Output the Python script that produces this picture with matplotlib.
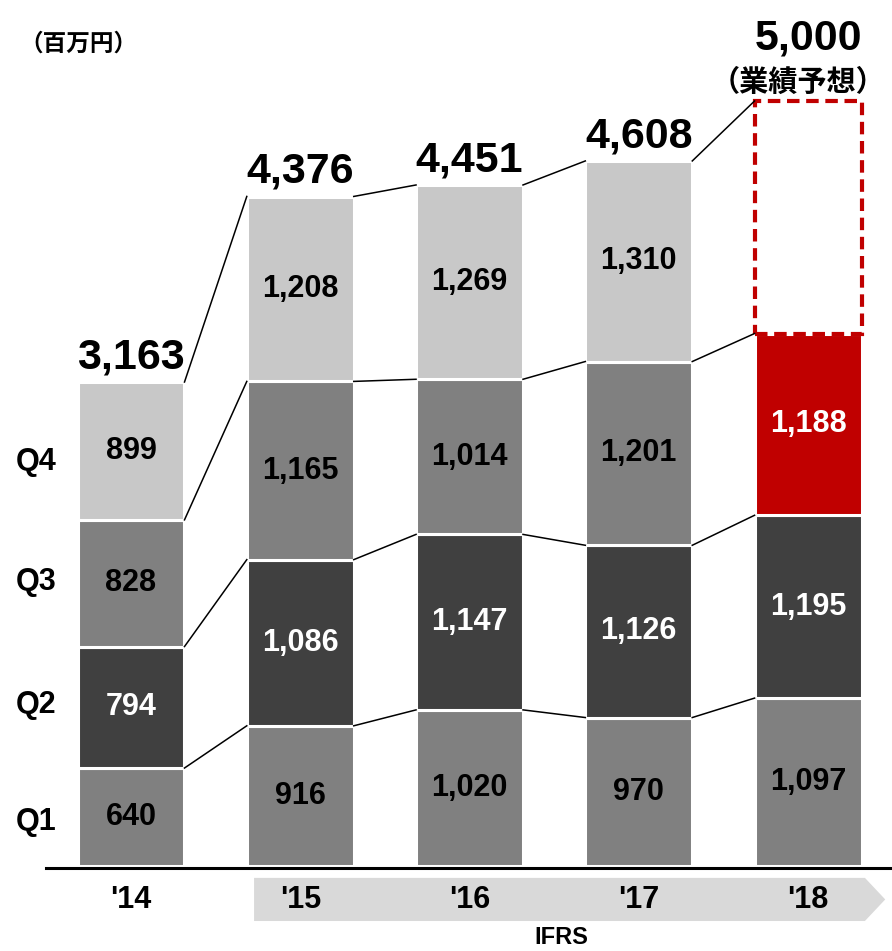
import numpy as np
import matplotlib.pyplot as plt
from matplotlib.patches import Polygon, Rectangle

plt.rcParams['font.family'] = ['Liberation Sans', 'Noto Sans CJK JP', 'DejaVu Sans']

years = ["'14", "'15", "'16", "'17", "'18"]
quarters = ['Q1', 'Q2', 'Q3', 'Q4']
q1 = [640, 916, 1020, 970, 1097]
q2 = [794, 1086, 1147, 1126, 1195]
q3 = [828, 1165, 1014, 1201, 1188]
q4 = [899, 1208, 1269, 1310, None]
totals = [3163, 4376, 4451, 4608, 5000]
total_labels = ['3,163', '4,376', '4,451', '4,608', '5,000']

GRAY = '#808080'
DARK = '#404040'
LIGHT = '#c8c8c8'
RED = '#c00000'
seg_colors = [GRAY, DARK, GRAY, LIGHT]
txt_colors = ['black', 'white', 'black', 'black']

fig = plt.figure(figsize=(8.92, 9.51), dpi=100)
ax = fig.add_axes([0, 0, 1, 1])
ax.set_xlim(-0.774, 4.496)
ax.set_ylim(-556, 5660)
ax.axis('off')

x = np.arange(len(years))
width = 0.632
series = [q1, q2, q3, q4]

bottom = np.zeros(len(years))
tops = []
for qi, vals in enumerate(series):
    for i, v in enumerate(vals):
        if v is None:
            continue
        color = seg_colors[qi]
        tcol = txt_colors[qi]
        # latest reported quarter highlighted in red
        if qi == 2 and i == 4:
            color, tcol = RED, 'white'
        ax.bar(x[i], v, width, bottom=bottom[i], color=color,
               edgecolor='white', linewidth=2.2)
        ax.text(x[i], bottom[i] + v / 2, f'{v:,}', ha='center', va='center',
                fontsize=22, fontweight='bold', color=tcol)
    vals_filled = np.array([0 if v is None else v for v in vals], dtype=float)
    bottom = bottom + vals_filled
    tops.append(bottom.copy())

# forecast remainder as a dashed box
fc_bottom = tops[2][4]
ax.add_patch(Rectangle((x[4] - width / 2, fc_bottom), width, totals[4] - fc_bottom,
                       fill=False, edgecolor=RED, linestyle=(0, (3, 1.6)), linewidth=3))

# connector lines between cumulative levels
top_line = np.array(totals, dtype=float)
for lev in [tops[0], tops[1], tops[2], top_line]:
    for i in range(len(years) - 1):
        ax.plot([x[i] + width / 2, x[i + 1] - width / 2], [lev[i], lev[i + 1]],
                color='black', linewidth=1.1, zorder=3)

# totals above bars
for i, lab in enumerate(total_labels):
    ax.annotate(lab, (x[i], totals[i]), xytext=(0, 37 if i == 4 else 10),
                textcoords='offset points', ha='center', va='baseline',
                fontsize=31, fontweight='bold')
ax.annotate('（業績予想）', (x[4], totals[4]), xytext=(-7, 7),
            textcoords='offset points', ha='center', va='baseline',
            fontsize=21, fontweight='bold', family=['Noto Sans CJK JP'])

# quarter labels aligned to the first bar's segments
cum = np.cumsum([0] + [s[0] for s in series])
q_offsets = [30, -13, -7, 72]
for qi, q in enumerate(quarters):
    ax.text(-0.56, (cum[qi] + cum[qi + 1]) / 2 - q_offsets[qi], q, ha='center', va='center',
            fontsize=22, fontweight='bold')

ax.text(-0.31, 5375, '（百万円）', ha='center', va='center', fontsize=17,
        fontweight='bold', family=['Noto Sans CJK JP'])

# IFRS band
bx0 = x[1] - width / 2 + 0.043
bx1 = x[4] + width / 2 + 0.02
tip = bx1 + 0.12
y_hi, y_lo = -78, -360
ax.add_patch(Polygon([(bx0, y_hi), (bx1, y_hi), (tip, (y_hi + y_lo) / 2),
                      (bx1, y_lo), (bx0, y_lo)], closed=True,
                     facecolor='#d9d9d9', edgecolor='none', zorder=0))

ax.plot([-0.5, 4.496], [-12, -12], color='black', linewidth=2.2, zorder=4)

for i, yr in enumerate(years):
    ax.text(x[i], -222, yr, ha='center', va='center', fontsize=22, fontweight='bold')

ax.text(2.54, -470, 'IFRS', ha='center', va='center', fontsize=17, fontweight='bold')

fig.savefig('out.png', dpi=100)
